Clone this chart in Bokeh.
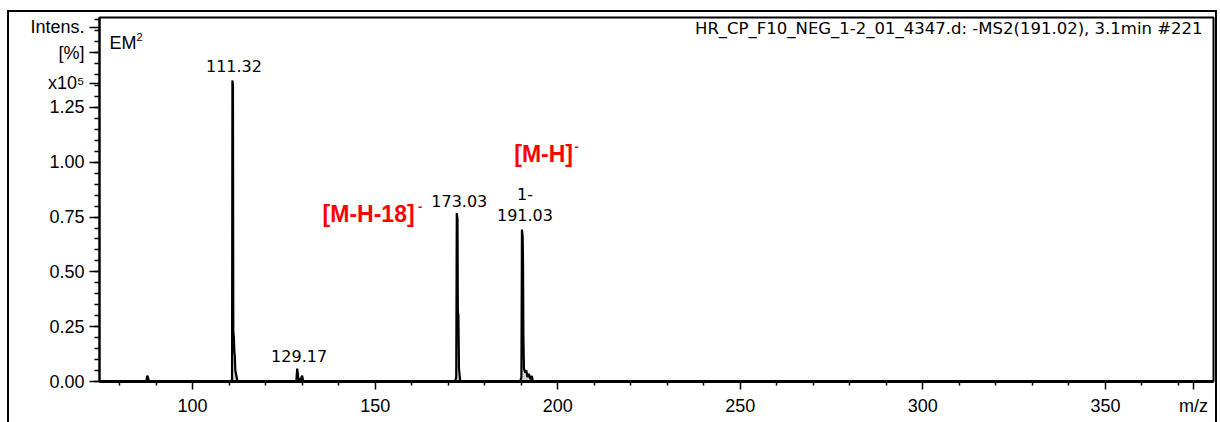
from bokeh.plotting import figure
from bokeh.models import Label, FixedTicker, NumeralTickFormatter, Range1d, InlineStyleSheet
from bokeh.embed import file_html
from bokeh.resources import INLINE

# ---------------- data (m/z, intensity x10^5) ----------------
title_text = "HR_CP_F10_NEG_1-2_01_4347.d: -MS2(191.02), 3.1min #221"

x_ticks = [100, 150, 200, 250, 300, 350]
x_minor_ticks = [80, 90, 110, 120, 130, 140, 160, 170, 180, 190, 210, 220, 230, 240,
                 260, 270, 280, 290, 310, 320, 330, 340, 360, 370]
x_unit_pos = 374.1
x_unit_label = "m/z"

y_ticks = [0.0, 0.25, 0.5, 0.75, 1.0, 1.25]
y_minor_step = 0.05
y_title_pos = [1.36, 1.5, 1.615]
y_title_labels = ["x10\u2075", "[%]", "Intens."]

peak_labels = ["111.32", "129.17", "173.03", "191.03"]
peak_label_mz = [111.32, 129.17, 173.03, 191.03]
peak_label_int = [1.373, 0.059, 0.768, 0.693]

mz_base_left = [74.5, 87.3]
int_base_left = [0.0, 0.0]
mz_87 = [87.6, 88.0, 88.3]
int_87 = [0.027, 0.005, 0.0]
mz_111 = [110.5, 110.8, 110.9, 111.05, 111.15, 111.3, 111.45, 111.55, 111.7, 112.3]
int_111 = [0.0, 0.01, 1.373, 1.35, 0.23, 0.20, 0.13, 0.12, 0.05, 0.0]
mz_129 = [128.4, 128.65, 128.9, 129.2, 129.6, 130.0, 130.3]
int_129 = [0.0, 0.059, 0.02, 0.005, 0.01, 0.027, 0.0]
mz_173 = [171.9, 172.2, 172.35, 172.55, 172.65, 172.8, 172.95, 173.3]
int_173 = [0.0, 0.02, 0.768, 0.74, 0.32, 0.30, 0.06, 0.0]
mz_191 = [189.7, 190.05, 190.2, 190.4, 190.5, 190.6, 190.75, 191.1, 191.4, 191.7, 192.1, 192.5, 192.9, 193.2]
int_191 = [0.0, 0.02, 0.693, 0.66, 0.54, 0.2, 0.06, 0.04, 0.05, 0.02, 0.035, 0.01, 0.025, 0.0]
mz_base_right = [379.6]
int_base_right = [0.0]

mz = mz_base_left + mz_87 + mz_111 + mz_129 + mz_173 + mz_191 + mz_base_right
intensity = int_base_left + int_87 + int_111 + int_129 + int_173 + int_191 + int_base_right

x_start, x_end = 74.5, 379.6
y_start, y_end = 0.0, 1.66

# ---------------- figure ----------------
p = figure(width=1220, height=422, output_backend="svg", toolbar_location=None,
           x_range=Range1d(x_start, x_end), y_range=Range1d(y_start, y_end),
           min_border_left=99, min_border_right=7, min_border_top=17, min_border_bottom=41)
p.xgrid.visible = False
p.ygrid.visible = False
p.outline_line_color = "black"
p.outline_line_width = 2
p.background_fill_color = "white"
p.border_fill_color = "white"

p.stylesheets = [InlineStyleSheet(css=":host::after{content:'';position:absolute;left:7px;top:10px;"
                                      "width:1210px;height:412px;border:2px solid #000;border-bottom:none;"
                                      "box-sizing:border-box;pointer-events:none;z-index:10;}")]

p.varea(x=mz, y1=0, y2=intensity, fill_color="#d4d4d4")
p.line(x=mz, y=intensity, line_color="black", line_width=2.2)

# x axis
xa = p.xaxis[0]
xa.ticker = FixedTicker(ticks=x_ticks + [x_unit_pos], minor_ticks=x_minor_ticks)
xa.major_label_overrides = {x_unit_pos: x_unit_label}
xa.axis_line_width = 3
xa.major_tick_in = 0
xa.major_tick_out = 8
xa.minor_tick_in = 0
xa.minor_tick_out = 4
xa.major_tick_line_width = 1.5
xa.minor_tick_line_width = 1.5
xa.major_label_standoff = 6
xa.major_label_text_font = "Liberation Sans"
xa.major_label_text_font_size = "18px"
xa.major_label_text_color = "black"

# y axis
ya = p.yaxis[0]
ya.ticker = FixedTicker(ticks=y_ticks + y_title_pos,
                        minor_ticks=[round(y_minor_step * i, 2) for i in range(34)])
ya.formatter = NumeralTickFormatter(format="0.00")
ya.major_label_overrides = dict(zip(y_title_pos, y_title_labels))
ya.axis_line_width = 2
ya.major_tick_in = 0
ya.major_tick_out = 10
ya.minor_tick_in = 0
ya.minor_tick_out = 5
ya.major_tick_line_width = 1.5
ya.minor_tick_line_width = 1.5
ya.major_label_standoff = 5
ya.major_label_text_font = "Liberation Sans"
ya.major_label_text_font_size = "18px"
ya.major_label_text_color = "black"


def frame_label(text, dx, dy, align="left", size="17px", font="Liberation Sans", anchor="left"):
    x = x_start if anchor == "left" else x_end
    p.add_layout(Label(x=x, y=y_end, x_offset=dx, y_offset=-dy, text=text,
                       text_align=align, text_baseline="middle", text_font=font,
                       text_font_size=size, text_color="black"))


frame_label("EM", 10, 25, size="18px")
frame_label("2", 37, 19, size="11px")
frame_label(title_text, -11, 11, align="right", size="16.5px", font="DejaVu Sans", anchor="right")

# peak labels
offsets = [14, 13, 12, 15]
for t, xm, yi, off in zip(peak_labels, peak_label_mz, peak_label_int, offsets):
    p.add_layout(Label(x=xm, y=yi, y_offset=off, text=t, text_align="center", text_baseline="middle",
                       text_font="DejaVu Sans", text_font_size="16px", text_color="black"))
p.add_layout(Label(x=191.03, y=0.693, y_offset=36, text="1-", text_align="center", text_baseline="middle",
                   text_font="DejaVu Sans", text_font_size="16px", text_color="black"))

# red annotations
red = "#ff0000"
p.add_layout(Label(x=135.6, y=0.766, text="[M-H-18]", text_align="left", text_baseline="middle",
                   text_font="Liberation Sans", text_font_style="bold", text_font_size="23px", text_color=red))
p.add_layout(Label(x=161.7, y=0.80, text="-", text_align="left", text_baseline="middle",
                   text_font="Liberation Sans", text_font_style="bold", text_font_size="13px", text_color=red))
p.add_layout(Label(x=188.1, y=1.036, text="[M-H]", text_align="left", text_baseline="middle",
                   text_font="Liberation Sans", text_font_style="bold", text_font_size="23px", text_color=red))
p.add_layout(Label(x=204.6, y=1.072, text="-", text_align="left", text_baseline="middle",
                   text_font="Liberation Sans", text_font_style="bold", text_font_size="13px", text_color=red))

open("out.html", "w").write(file_html(p, INLINE))
